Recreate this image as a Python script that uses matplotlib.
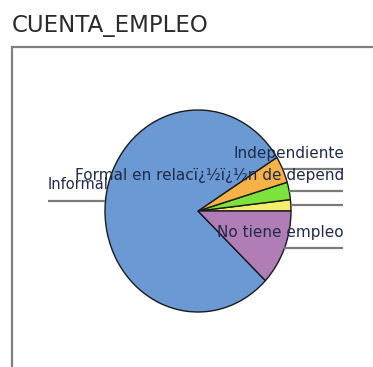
import numpy as np
import matplotlib
matplotlib.use("Agg")
import matplotlib.pyplot as plt
from matplotlib.patches import Rectangle

# slice shares (percent), counter-clockwise from 3 o'clock
labels = ["", "Formal en relacï¿½ï¿½n de depend", "Independiente", "Informal", "No tiene empleo"]
shares = [1.8, 2.8, 4.3, 79.0, 12.1]
colors = ["#f4ee6c", "#7ee23c", "#f7b247", "#6a99d3", "#b07db6"]

W, H = 373, 367
CX, CY = 198, 211          # pie centre, pixels
RX, RY = 93, 101           # pie radii, pixels (slightly oval)


def dx(p):
    return (p - CX) / RX


def dy(p):
    return (CY - p) / RY


fig = plt.figure(figsize=(W / 100, H / 100), dpi=100)
ax = fig.add_axes([0, 0, 1, 1])

wedges, _ = ax.pie(shares, colors=colors, startangle=0, counterclock=True,
                   radius=1, wedgeprops=dict(edgecolor="#1a1a1a", linewidth=1.0))
ax.set_aspect("auto")
ax.set_xlim(dx(0), dx(W))
ax.set_ylim(dy(H), dy(0))
ax.axis("off")

# labels with underline leader lines
text_col = "#1f2a48"
line_col = "#7a7a7a"
right_end = 343
left_start = 48
for w, lab in zip(wedges, labels):
    mid = np.deg2rad((w.theta1 + w.theta2) / 2)
    ex, ey = np.cos(mid), np.sin(mid)
    if ex >= 0:
        ax.plot([ex, dx(right_end)], [ey, ey], color=line_col, lw=1.6,
                solid_capstyle="butt", zorder=1)
        ax.text(dx(right_end + 1), ey + 8 / RY, lab, ha="right", va="bottom",
                fontsize=11, color=text_col, zorder=5)
    else:
        ax.plot([dx(left_start), ex], [ey, ey], color=line_col, lw=1.6,
                solid_capstyle="butt", zorder=1)
        ax.text(dx(left_start), ey + 9 / RY, lab, ha="left", va="bottom",
                fontsize=10.5, color=text_col, zorder=5)

# panel frame
fig.add_artist(Rectangle((12 / W, -0.1), 1.2, 1.1 - 47 / H, transform=fig.transFigure,
                         fill=False, edgecolor="#808080", linewidth=1.6))

fig.text(12 / W, 1 - 32 / H, "CUENTA_EMPLEO", fontsize=16.5, color="#2b2b2b",
         ha="left", va="baseline")

fig.savefig("out.png", dpi=100)
